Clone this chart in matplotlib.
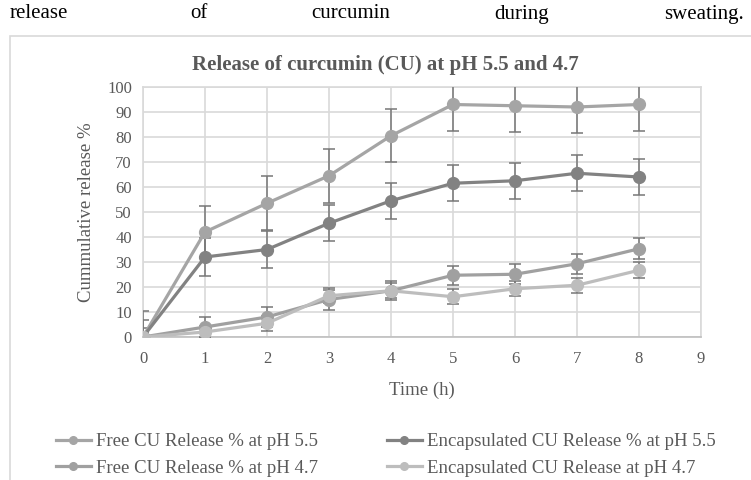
import matplotlib.pyplot as plt
from matplotlib.patches import Rectangle
from matplotlib.lines import Line2D

plt.rcParams["font.family"] = ["Liberation Serif", "DejaVu Serif"]

# Data
time_h = [0, 1, 2, 3, 4, 5, 6, 7, 8]
free_55 = [0, 42, 53.5, 64.5, 80.5, 93, 92.5, 92, 93]
free_55_err = [3.5, 10.5, 10.7, 10.8, 10.5, 10.5, 10.5, 10.5, 10.5]
enc_55 = [0, 32, 35, 45.5, 54.5, 61.5, 62.5, 65.5, 64]
enc_55_err = [10.5, 7.5, 7.5, 7.3, 7.2, 7.2, 7.2, 7.1, 7.1]
free_47 = [0, 4, 8, 15, 18.5, 24.7, 25.1, 29.3, 35.3]
free_47_err = [7, 4, 4, 4, 3.8, 3.8, 4, 4, 4.2]
enc_47 = [0, 2, 5.5, 16.5, 18.5, 16.1, 19.3, 20.7, 26.7]
enc_47_err = [2, 2.5, 3, 3, 3, 3, 3, 3, 3.2]

labels = ["Free CU Release % at pH 5.5",
          "Encapsulated CU Release % at pH 5.5",
          "Free CU Release % at pH 4.7",
          "Encapsulated CU Release at pH 4.7"]
colors = ["#a5a5a5", "#828282", "#a0a0a0", "#bdbdbd"]
series = [(free_55, free_55_err), (enc_55, enc_55_err),
          (free_47, free_47_err), (enc_47, enc_47_err)]

fig = plt.figure(figsize=(7.51, 4.8), dpi=100)
ax = fig.add_axes([143 / 751, 1 - 337 / 480, 558 / 751, 250 / 480])

# page text above the chart and the chart box
words = [("release", 10, "left"), ("of", 190, "left"),
         ("curcumin", 311, "left"), ("during", 494, "left"),
         ("sweating.", 744, "right")]
for w, xp, ha in words:
    fig.text(xp / 751, 1 - 14 / 480, w, fontsize=15, color="black",
             va="center", ha=ha)
fig.patches.append(Rectangle((10 / 751, -0.1), 1.0, 1.1 - 36 / 480,
                             transform=fig.transFigure, fill=False,
                             edgecolor="#d9d9d9", linewidth=1.2))

for (vals, err), c, lab in zip(series, colors, labels):
    ax.errorbar(time_h, vals, yerr=err, color=c, ecolor="#777777",
                elinewidth=1.1, capsize=4, capthick=1.1, marker="o",
                markersize=8.5, linewidth=2.3, label=lab, zorder=3)

ax.set_xlim(0, 9)
ax.set_ylim(0, 100)
ax.set_xticks(range(0, 10))
ax.set_yticks(range(0, 101, 10))
ax.grid(True, color="#d9d9d9", linewidth=1.2)
ax.set_axisbelow(True)
for s in ax.spines.values():
    s.set_color("#d9d9d9")
    s.set_linewidth(1.2)
ax.spines["bottom"].set_color("#bfbfbf")
ax.tick_params(axis="x", length=0, labelsize=12, labelcolor="#595959", pad=10)
ax.tick_params(axis="y", length=0, labelsize=12, labelcolor="#595959", pad=8)

ax.set_xlabel("Time (h)", fontsize=13.5, color="#595959", labelpad=11)
ax.set_ylabel("Cummulative release %", fontsize=13.5, color="#595959",
              labelpad=9)
fig.text(385 / 751, 1 - 65 / 480, "Release of curcumin (CU) at pH 5.5 and 4.7",
         fontsize=15, fontweight="bold", color="#595959",
         ha="center", va="center")

# legend filled column-wise, so order handles to read row by row
order = [0, 2, 1, 3]
handles = [Line2D([], [], color=colors[i], marker="o", markersize=5.5,
                  linewidth=2.3) for i in order]
fig.legend(handles, [labels[i] for i in order], loc="center left", ncol=2,
           bbox_to_anchor=(56 / 751, 1 - 455 / 480), frameon=False,
           borderpad=0, borderaxespad=0,
           fontsize=13.5, labelcolor="#595959", handlelength=1.85,
           handletextpad=0.27, columnspacing=3.7, labelspacing=0.5)

fig.savefig("out.png", dpi=100)
